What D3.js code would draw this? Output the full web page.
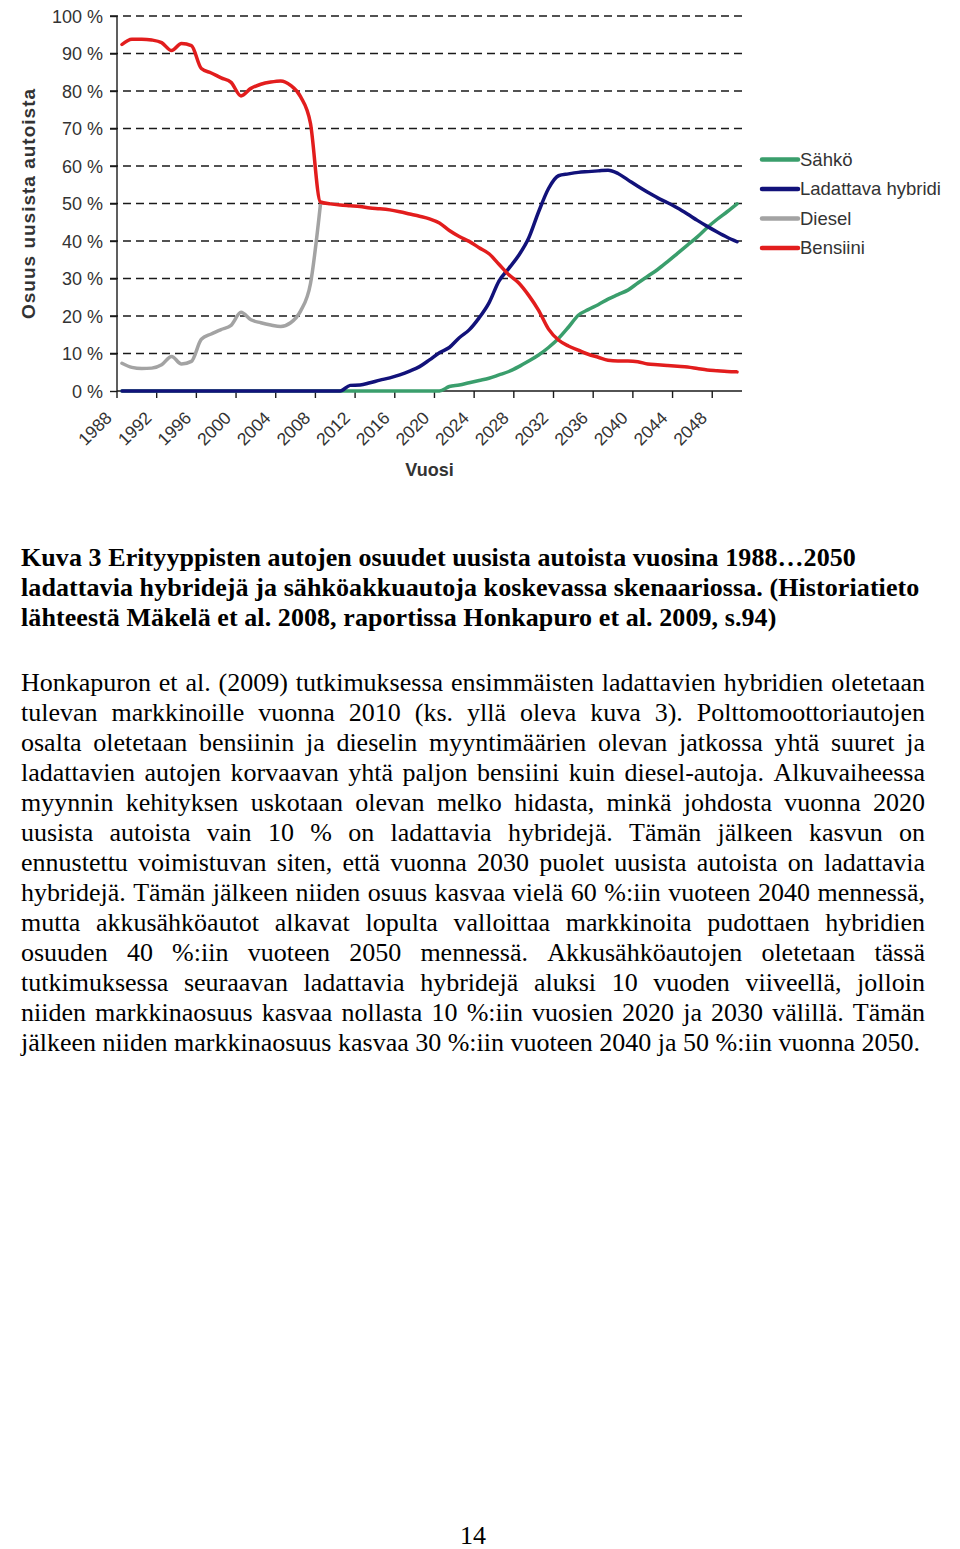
<!DOCTYPE html>
<html><head><meta charset="utf-8">
<script src="https://cdn.jsdelivr.net/npm/d3@7"></script>
<style>
html,body{margin:0;padding:0;background:#fff;}
svg{display:block;}
</style></head>
<body>
<svg id="page" width="960" height="1549"></svg>
<script>
// ---------- DATA ----------
const years = d3.range(1988, 2051);
const tickYears = [1988,1992,1996,2000,2004,2008,2012,2016,2020,2024,2028,2032,2036,2040,2044,2048];
const yTicks = [0,10,20,30,40,50,60,70,80,90,100];
const seriesNames = ["Sähkö","Ladattava hybridi","Diesel","Bensiini"];
const seriesColors = ["#3a9e6c","#12127a","#a3a3a3","#e21d1d"];

// Sähkö 1988..2050
const sahko = [0,0,0,0,0,0,0,0,0,0, 0,0,0,0,0,0,0,0,0,0, 0,0,0,0,0,0,0,0,0,0, 0,0,0,
  1.2,1.6,2.2,2.8,3.4,4.3,5.2,6.5,8.0,9.6,11.6,14.0,17.0,20.2,21.7,23.0,24.5,25.7,26.9,28.8,
  30.6,32.4,34.5,36.7,38.9,41.1,43.6,45.8,47.8,49.9];
// Ladattava hybridi 1988..2050
const hybridi = [0,0,0,0,0,0,0,0,0,0, 0,0,0,0,0,0,0,0,0,0, 0,0,0,
  1.5,1.6,2.2,2.9,3.5,4.3,5.3,6.5,8.3,10.2,11.6,14.2,16.3,19.5,23.5,29.3,32.7,36.2,40.8,47.8,
  54.0,57.4,57.9,58.3,58.5,58.7,58.9,58.0,56.3,54.6,53.0,51.5,50.2,48.8,47.2,45.5,43.9,42.4,41.0,39.8];
// Diesel 1988..2008 (afterwards hidden under Bensiini)
const diesel = [7.4,6.3,6.0,6.1,7.0,9.2,7.2,7.9,13.8,15.2,16.4,17.5,21.0,19.0,18.2,17.6,17.2,18.2,21.3,28.6,49.6];
// Bensiini 1988..2050
const bensiini = [92.4,93.8,93.8,93.6,92.9,90.8,92.7,92.1,86.0,84.8,83.5,82.3,78.7,80.7,81.8,82.4,82.7,81.5,78.5,71.4,
  50.4,49.9,49.6,49.4,49.2,48.8,48.6,48.3,47.8,47.2,46.6,45.9,44.8,42.8,41.2,39.9,38.2,36.6,33.8,31.0,28.8,25.5,21.5,
  16.5,13.6,12.0,10.9,9.8,9.0,8.2,8.0,8.0,7.8,7.2,7.0,6.8,6.6,6.4,6.0,5.6,5.4,5.2,5.1];

const seriesValues = [sahko, hybridi, diesel, bensiini];

const captionLines = [
  "Kuva 3 Erityyppisten autojen osuudet uusista autoista vuosina 1988…2050",
  "ladattavia hybridejä ja sähköakkuautoja koskevassa skenaariossa. (Historiatieto",
  "lähteestä Mäkelä et al. 2008, raportissa Honkapuro et al. 2009, s.94)"
];
const bodyLines = [
  "Honkapuron et al. (2009) tutkimuksessa ensimmäisten ladattavien hybridien oletetaan",
  "tulevan markkinoille vuonna 2010 (ks. yllä oleva kuva 3). Polttomoottoriautojen",
  "osalta oletetaan bensiinin ja dieselin myyntimäärien olevan jatkossa yhtä suuret ja",
  "ladattavien autojen korvaavan yhtä paljon bensiini kuin diesel-autoja. Alkuvaiheessa",
  "myynnin kehityksen uskotaan olevan melko hidasta, minkä johdosta vuonna 2020",
  "uusista autoista vain 10 % on ladattavia hybridejä. Tämän jälkeen kasvun on",
  "ennustettu voimistuvan siten, että vuonna 2030 puolet uusista autoista on ladattavia",
  "hybridejä. Tämän jälkeen niiden osuus kasvaa vielä 60 %:iin vuoteen 2040 mennessä,",
  "mutta akkusähköautot alkavat lopulta valloittaa markkinoita pudottaen hybridien",
  "osuuden 40 %:iin vuoteen 2050 mennessä. Akkusähköautojen oletetaan tässä",
  "tutkimuksessa seuraavan ladattavia hybridejä aluksi 10 vuoden viiveellä, jolloin",
  "niiden markkinaosuus kasvaa nollasta 10 %:iin vuosien 2020 ja 2030 välillä. Tämän",
  "jälkeen niiden markkinaosuus kasvaa 30 %:iin vuoteen 2040 ja 50 %:iin vuonna 2050."
];
const pageNumber = "14";

// ---------- CHART ----------
const svg = d3.select("#page");
const L = 117, R = 742, T = 16, B = 391;
const x = d3.scaleBand().domain(years).range([L, R]).padding(0);
const bw = x.bandwidth();
const cx = d => x(d) + bw / 2;
const y = d3.scaleLinear().domain([0, 100]).range([B, T]);

const sans = "'Liberation Sans', Arial, sans-serif";
const serif = "'Liberation Serif', 'Times New Roman', serif";
const txtCol = "#333";

// gridlines
svg.append("g").selectAll("line").data(yTicks.filter(v => v > 0)).join("line")
  .attr("x1", L - 7).attr("x2", R).attr("y1", d => y(d)).attr("y2", d => y(d))
  .attr("stroke", "#1a1a1a").attr("stroke-width", 1.4).attr("stroke-dasharray", "8,5");

// y axis
const yAxis = d3.axisLeft(y).tickValues(yTicks).tickSize(7).tickFormat(d => d + " %");
const gy = svg.append("g").attr("transform", `translate(${L},0)`).call(yAxis);
gy.select(".domain").attr("stroke", "#1a1a1a").attr("stroke-width", 1.4).attr("d", `M0,${T}V${B}`);
gy.selectAll(".tick line").attr("stroke", "#1a1a1a").attr("stroke-width", 1.4);
gy.selectAll(".tick text").attr("font-family", sans).attr("font-size", 18).attr("fill", txtCol).attr("x", -14).attr("dy", "0.35em");

// x axis
const xAxis = d3.axisBottom(x).tickValues(tickYears).tickSize(0).tickFormat(d => d);
const gx = svg.append("g").attr("transform", `translate(0,${B})`).call(xAxis);
gx.select(".domain").attr("stroke", "#1a1a1a").attr("stroke-width", 1.4).attr("d", `M${L},0H${R}`);
gx.selectAll(".tick text").attr("font-family", sans).attr("font-size", 17.5).attr("fill", txtCol)
  .attr("text-anchor", "end").attr("y", 0).attr("dy", 0)
  .attr("transform", `translate(${-bw / 2 - 4},28) rotate(-45)`);
// tick marks at category boundaries
svg.append("g").selectAll("line").data(tickYears).join("line")
  .attr("x1", d => x(d)).attr("x2", d => x(d)).attr("y1", B).attr("y2", B + 7)
  .attr("stroke", "#1a1a1a").attr("stroke-width", 1.4);

// axis titles
svg.append("text").attr("transform", `translate(35,${(T + B) / 2}) rotate(-90)`)
  .attr("text-anchor", "middle").attr("font-family", sans).attr("font-weight", "bold")
  .attr("font-size", 19).attr("letter-spacing", 1).attr("fill", txtCol).text("Osuus uusista autoista");
svg.append("text").attr("x", (L + R) / 2).attr("y", 476).attr("text-anchor", "middle")
  .attr("font-family", sans).attr("font-weight", "bold").attr("font-size", 18).attr("fill", txtCol).text("Vuosi");

// lines
const line = d3.line().x(d => cx(d[0])).y(d => y(d[1])).curve(d3.curveMonotoneX);
seriesValues.forEach((vals, i) => {
  const pts = vals.map((v, j) => [years[j], v]);
  svg.append("path").datum(pts).attr("d", line).attr("fill", "none")
    .attr("stroke", seriesColors[i]).attr("stroke-width", 3.5)
    .attr("stroke-linejoin", "round").attr("stroke-linecap", "round");
});

// legend
const lg = svg.append("g");
seriesNames.forEach((n, i) => {
  const ly = 159.5 + i * 29.5;
  lg.append("line").attr("x1", 762).attr("x2", 798).attr("y1", ly).attr("y2", ly)
    .attr("stroke", seriesColors[i]).attr("stroke-width", 4.5).attr("stroke-linecap", "round");
  lg.append("text").attr("x", 800).attr("y", ly).attr("dy", "0.35em").attr("font-family", sans)
    .attr("font-size", 18.5).attr("fill", txtCol).text(n);
});

// ---------- TEXT ----------
captionLines.forEach((t, i) => {
  svg.append("text").attr("x", 21).attr("y", 566 + i * 30).attr("font-family", serif)
    .attr("font-weight", "bold").attr("font-size", 26).attr("letter-spacing", 0.08).attr("fill", "#000").text(t);
});

const bodyW = 904;
bodyLines.forEach((t, i) => {
  const by = 691 + i * 30;
  const words = t.split(" ");
  const g = svg.append("g");
  if (i === bodyLines.length - 1) {
    g.append("text").attr("x", 21).attr("y", by).attr("font-family", serif).attr("font-size", 26)
      .attr("fill", "#000").text(t);
    return;
  }
  const nodes = words.map(w => g.append("text").attr("y", by).attr("font-family", serif)
    .attr("font-size", 26).attr("fill", "#000").text(w));
  const widths = nodes.map(n => n.node().getComputedTextLength());
  const total = d3.sum(widths);
  const gap = (bodyW - total) / (words.length - 1);
  let xx = 21;
  nodes.forEach((n, k) => { n.attr("x", xx); xx += widths[k] + gap; });
});

svg.append("text").attr("x", 473).attr("y", 1544).attr("text-anchor", "middle")
  .attr("font-family", serif).attr("font-size", 26).attr("fill", "#000").text(pageNumber);
</script>
</body></html>
